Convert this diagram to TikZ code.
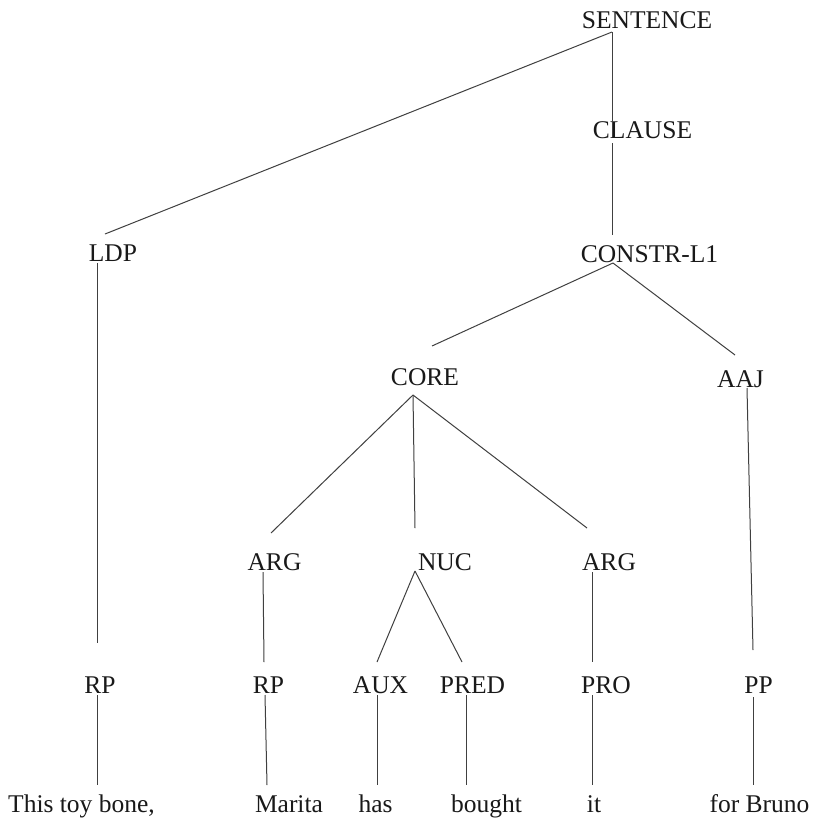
\documentclass[tikz,border=0pt]{standalone}
\usepackage{fontspec}
\setmainfont{Liberation Serif}
\begin{document}
\begin{tikzpicture}[x=1pt,y=-1pt,
  lbl/.style={inner sep=0pt,anchor=base,font=\fontsize{25.5}{30}\selectfont,text=black!90},
  edge/.style={draw=black!75,line width=1pt}]
\useasboundingbox[fill=white] (0,0) rectangle (814,820);
% labels
\node[lbl] (sent) at (647,28) {SENTENCE};
\node[lbl] (clause) at (642.5,138) {CLAUSE};
\node[lbl] (ldp) at (113,261) {LDP};
\node[lbl] (constr) at (649.5,262) {CONSTR-L1};
\node[lbl] (core) at (425,385) {CORE};
\node[lbl] (aaj) at (740.5,387) {AAJ};
\node[lbl] (arga) at (274.5,570) {ARG};
\node[lbl] (nuc) at (445,570) {NUC};
\node[lbl] (argb) at (609,570) {ARG};
\node[lbl] (rpa) at (100,693) {RP};
\node[lbl] (rpb) at (268.5,693) {RP};
\node[lbl] (aux) at (380.5,693) {AUX};
\node[lbl] (pred) at (472.5,693) {PRED};
\node[lbl] (pro) at (606,693) {PRO};
\node[lbl] (pp) at (758.5,693) {PP};
\node[lbl] (wa) at (81.5,812) {This toy bone,};
\node[lbl] (wb) at (289,812) {Marita};
\node[lbl] (wc) at (375.5,812) {has};
\node[lbl] (wd) at (486.5,812) {bought};
\node[lbl] (we) at (594,812) {it};
\node[lbl] (wf) at (759.5,812) {for Bruno};
% connectors
\draw[edge] ([shift={(-35,4)}]sent.base) -- ([shift={(-8,-27)}]ldp.base);
\draw[edge] ([shift={(-35,4)}]sent.base) -- ([shift={(-30.5,-1)}]clause.base);
\draw[edge] ([shift={(-30.5,5)}]clause.base) -- ([shift={(-37.5,-27)}]constr.base);
\draw[edge] ([shift={(-36.5,1)}]constr.base) -- ([shift={(7,-39)}]core.base);
\draw[edge] ([shift={(-36.5,1)}]constr.base) -- ([shift={(-5.5,-32)}]aaj.base);
\draw[edge] ([shift={(-12,10)}]core.base) -- ([shift={(-3.5,-37)}]arga.base);
\draw[edge] ([shift={(-12,10)}]core.base) -- ([shift={(-30,-42)}]nuc.base);
\draw[edge] ([shift={(-12,10)}]core.base) -- ([shift={(-22,-42)}]argb.base);
\draw[edge] ([shift={(-16,2)}]ldp.base) -- ([shift={(-3,-50)}]rpa.base);
\draw[edge] ([shift={(-11.5,2)}]arga.base) -- ([shift={(-4.5,-31)}]rpb.base);
\draw[edge] ([shift={(-30,1)}]nuc.base) -- ([shift={(-3.5,-31)}]aux.base);
\draw[edge] ([shift={(-30,1)}]nuc.base) -- ([shift={(-10.5,-31)}]pred.base);
\draw[edge] ([shift={(-17,2)}]argb.base) -- ([shift={(-14,-31)}]pro.base);
\draw[edge] ([shift={(6.5,1)}]aaj.base) -- ([shift={(-5.5,-43)}]pp.base);
\draw[edge] ([shift={(-3,2)}]rpa.base) -- ([shift={(15.5,-27)}]wa.base);
\draw[edge] ([shift={(-3.5,2)}]rpb.base) -- ([shift={(-22,-27)}]wb.base);
\draw[edge] ([shift={(-3.5,2)}]aux.base) -- ([shift={(1.5,-27)}]wc.base);
\draw[edge] ([shift={(-6.5,2)}]pred.base) -- ([shift={(-20.5,-27)}]wd.base);
\draw[edge] ([shift={(-14,2)}]pro.base) -- ([shift={(-2,-27)}]we.base);
\draw[edge] ([shift={(-5.5,4)}]pp.base) -- ([shift={(-6.5,-27)}]wf.base);
\end{tikzpicture}
\end{document}
